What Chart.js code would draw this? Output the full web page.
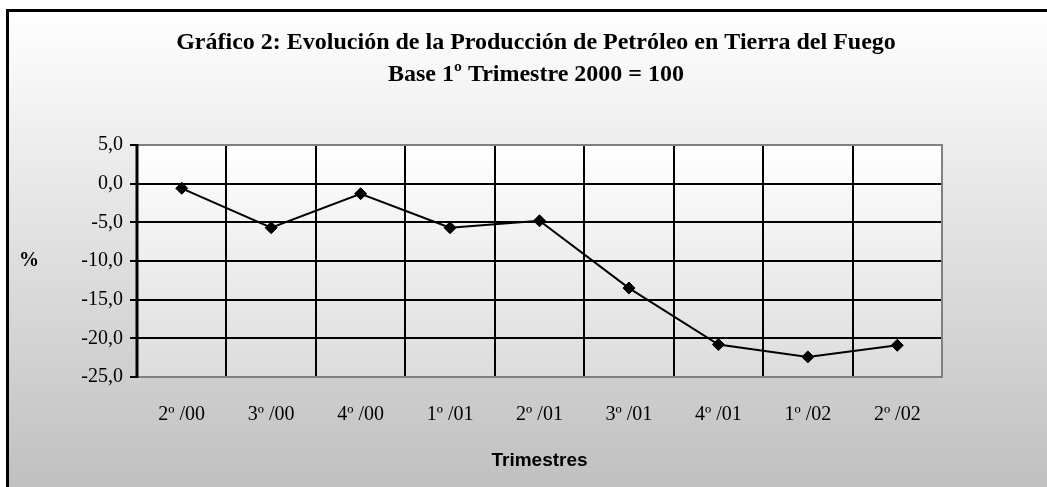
<!DOCTYPE html>
<html>
<head>
<meta charset="utf-8">
<script src="https://cdn.jsdelivr.net/npm/chart.js@4/dist/chart.umd.min.js"></script>
<style>
  html, body { margin: 0; padding: 0; background: #fff; }
  #wrap { width: 1047px; height: 487px; }
</style>
</head>
<body>
<div id="wrap"><canvas id="grafico"></canvas></div>
<script>
// datos
const trimestres = ['2º /00', '3º /00', '4º /00', '1º /01', '2º /01', '3º /01', '4º /01', '1º /02', '2º /02'];
const produccion = [-0.6, -5.7, -1.3, -5.7, -4.8, -13.5, -20.8, -22.4, -20.9];
const tituloLineas = ['Gráfico 2: Evolución de la Producción de Petróleo en Tierra del Fuego', 'Base 1º Trimestre 2000 = 100'];
const ejeY = { min: -25, max: 5, paso: 5 };

const serif = '"Liberation Serif", "Times New Roman", serif';

// fondo degradado, marco y etiqueta "%"
const fondoPlugin = {
  id: 'fondo',
  beforeDraw(chart) {
    const { ctx, width, height, chartArea } = chart;
    ctx.save();
    ctx.fillStyle = '#ffffff';
    ctx.fillRect(0, 0, width, height);
    let g = ctx.createLinearGradient(0, 10, 0, height);
    g.addColorStop(0, '#ffffff');
    g.addColorStop(1, '#c0c0c0');
    ctx.fillStyle = g;
    ctx.fillRect(7, 10, width - 7, height - 10);
    // area del grafico
    g = ctx.createLinearGradient(0, chartArea.top, 0, chartArea.bottom);
    g.addColorStop(0, '#ffffff');
    g.addColorStop(1, '#dcdcdc');
    ctx.fillStyle = g;
    ctx.fillRect(chartArea.left, chartArea.top, chartArea.right - chartArea.left, chartArea.bottom - chartArea.top);
    // marco exterior
    ctx.strokeStyle = '#000';
    ctx.lineWidth = 3;
    ctx.beginPath();
    ctx.moveTo(7.5, height + 2);
    ctx.lineTo(7.5, 10.5);
    ctx.lineTo(width + 2, 10.5);
    ctx.stroke();
    ctx.restore();
  },
  beforeDatasetsDraw(chart) {
    const { ctx, chartArea } = chart;
    ctx.save();
    ctx.strokeStyle = '#808080';
    ctx.lineWidth = 2;
    ctx.beginPath();
    ctx.moveTo(chartArea.left, chartArea.top);
    ctx.lineTo(chartArea.right, chartArea.top);
    ctx.lineTo(chartArea.right, chartArea.bottom);
    ctx.lineTo(chartArea.left, chartArea.bottom);
    ctx.stroke();
    ctx.strokeStyle = '#000';
    ctx.lineWidth = 3;
    ctx.beginPath();
    ctx.moveTo(chartArea.left, chartArea.top - 1);
    ctx.lineTo(chartArea.left, chartArea.bottom + 1);
    ctx.stroke();
    // "%" del eje vertical
    ctx.fillStyle = '#000';
    ctx.font = 'bold 20px ' + serif;
    ctx.textAlign = 'center';
    ctx.textBaseline = 'middle';
    ctx.fillText('%', 29, (chartArea.top + chartArea.bottom) / 2);
    ctx.restore();
  }
};

new Chart(document.getElementById('grafico'), {
  type: 'line',
  data: {
    labels: trimestres,
    datasets: [{
      label: 'Producción',
      data: produccion,
      borderColor: '#000',
      borderWidth: 2,
      backgroundColor: '#000',
      pointStyle: 'rectRot',
      pointRadius: 6,
      pointBorderWidth: 1,
      pointBackgroundColor: '#000',
      pointBorderColor: '#000',
      tension: 0,
      yAxisID: 'y'
    }]
  },
  options: {
    responsive: true,
    maintainAspectRatio: false,
    animation: false,
    layout: { padding: { top: 0, left: 25, right: 0, bottom: 0 } },
    plugins: {
      legend: { display: false },
      tooltip: { enabled: false },
      title: {
        display: true,
        text: tituloLineas,
        color: '#000',
        font: { family: serif, size: 24, weight: 'bold', lineHeight: 1.333 },
        padding: { top: 27, bottom: 54 }
      }
    },
    scales: {
      x: {
        offset: true,
        grid: { offset: true, color: '#000', lineWidth: 2, drawTicks: false },
        border: { display: false },
        ticks: {
          color: '#000',
          padding: 26,
          maxRotation: 0,
          font: { family: serif, size: 20 }
        },
        title: {
          display: true,
          text: 'Trimestres',
          color: '#000',
          font: { family: '"Liberation Sans", Arial, sans-serif', size: 19, weight: 'bold' },
          padding: { top: 0, bottom: 15 }
        },
        afterFit(scale) { scale.height = 110; }
      },
      y: {
        min: ejeY.min,
        max: ejeY.max,
        grid: { color: '#000', lineWidth: 2, drawTicks: true, tickLength: 7 },
        border: { display: false },
        ticks: {
          stepSize: ejeY.paso,
          color: '#000',
          padding: 7,
          font: { family: serif, size: 20 },
          callback: v => v.toFixed(1).replace('.', ',')
        },
        afterFit(scale) { scale.width = 112; }
      },
      // eje vacio para dejar el margen derecho
      margen: {
        type: 'linear',
        position: 'right',
        display: true,
        grid: { display: false },
        border: { display: false },
        ticks: { display: false },
        afterFit(scale) { scale.width = 105; }
      }
    }
  },
  plugins: [fondoPlugin]
});
</script>
</body>
</html>
